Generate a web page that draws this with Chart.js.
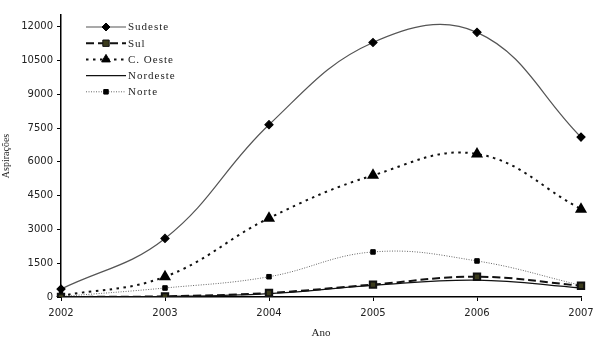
<!DOCTYPE html>
<html>
<head>
  <title>Aspirações por região</title>
  <script src="https://cdn.jsdelivr.net/npm/chart.js"></script>
  <style>
    body { margin: 0; background: #fff; }
  </style>
</head>
<body>
  <canvas id="chart" width="600" height="344"></canvas>
  <script>
    const anos = ['2002', '2003', '2004', '2005', '2006', '2007'];
    const sudeste = [350, 2600, 7650, 11300, 11750, 7100];
    const sul = [0, 30, 180, 550, 900, 500];
    const cOeste = [50, 900, 3500, 5400, 6350, 3900];
    const nordeste = [0, 20, 150, 520, 750, 400];
    const norte = [20, 400, 900, 2000, 1600, 520];
    const yTicks = [0, 1500, 3000, 4500, 6000, 7500, 9000, 10500, 12000];

    const serif = "'Liberation Serif', 'DejaVu Serif', serif";
    const sans = "'DejaVu Sans', sans-serif";

    // legend drawn by hand: line sample with its marker, then the label
    const legendPlugin = {
      id: 'legendaLinhas',
      afterDraw(chart) {
        const ctx = chart.ctx;
        const x0 = 86, x1 = 126, y0 = 27, step = 16.2;
        chart.data.datasets.forEach((ds, i) => {
          const y = y0 + i * step;
          ctx.save();
          ctx.strokeStyle = ds.borderColor;
          ctx.lineWidth = ds.borderWidth;
          ctx.setLineDash(ds.borderDash || []);
          ctx.beginPath();
          ctx.moveTo(x0, y);
          ctx.lineTo(x1, y);
          ctx.stroke();
          ctx.setLineDash([]);
          if (ds.pointRadius > 0) {
            ctx.fillStyle = ds.pointBackgroundColor;
            ctx.strokeStyle = ds.pointBorderColor;
            ctx.lineWidth = 1;
            Chart.helpers.drawPoint(ctx, {
              pointStyle: ds.pointStyle,
              radius: ds.pointRadius,
              rotation: 0,
              borderWidth: 1
            }, (x0 + x1) / 2, y);
          }
          ctx.restore();
          ctx.save();
          ctx.font = '11px ' + serif;
          ctx.letterSpacing = '1px';
          ctx.fillStyle = '#222';
          ctx.textBaseline = 'middle';
          ctx.fillText(ds.label, x1 + 2, y + 0.5);
          ctx.restore();
        });
      }
    };

    const ctx = document.getElementById('chart').getContext('2d');
    new Chart(ctx, {
      type: 'line',
      data: {
        labels: anos,
        datasets: [
          {
            label: 'Sudeste', data: sudeste,
            borderColor: '#555', borderWidth: 1.2,
            pointStyle: 'rectRot', pointRadius: 4,
            pointBackgroundColor: '#000', pointBorderColor: '#000'
          },
          {
            label: 'Sul', data: sul,
            borderColor: '#111', borderWidth: 2, borderDash: [8, 4],
            pointStyle: 'rect', pointRadius: 4.5,
            pointBackgroundColor: '#3b3b1c', pointBorderColor: '#111'
          },
          {
            label: 'C. Oeste', data: cOeste,
            borderColor: '#111', borderWidth: 2, borderDash: [2.5, 4.5],
            pointStyle: 'triangle', pointRadius: 5,
            pointBackgroundColor: '#000', pointBorderColor: '#000'
          },
          {
            label: 'Nordeste', data: nordeste,
            borderColor: '#111', borderWidth: 1.3,
            pointStyle: 'circle', pointRadius: 0
          },
          {
            label: 'Norte', data: norte,
            borderColor: '#666', borderWidth: 1, borderDash: [1, 1.5],
            pointStyle: 'rect', pointRadius: 3.2,
            pointBackgroundColor: '#000', pointBorderColor: '#000'
          }
        ]
      },
      options: {
        responsive: false,
        animation: false,
        layout: { padding: { top: 15, right: 19, left: 0, bottom: 0 } },
        elements: { line: { tension: 0.4, fill: false } },
        plugins: { legend: { display: false }, tooltip: { enabled: false } },
        scales: {
          x: {
            offset: false,
            grid: { drawOnChartArea: false, drawTicks: true, tickLength: 4, color: '#000' },
            border: { color: '#000', width: 1.5 },
            ticks: { color: '#222', font: { family: sans, size: 10 }, padding: 6, maxRotation: 0 },
            title: { display: true, text: 'Ano', color: '#222', font: { family: serif, size: 11 }, padding: { top: 2 } },
            afterFit(s) { s.height = 47; }
          },
          y: {
            min: 0, max: 12520,
            grid: { drawOnChartArea: false, drawTicks: true, tickLength: 4, color: '#000' },
            border: { color: '#000', width: 1.5 },
            ticks: {
              color: '#222', font: { family: sans, size: 10 }, padding: 4,
              callback: v => String(v)
            },
            afterBuildTicks(s) { s.ticks = yTicks.map(v => ({ value: v })); },
            title: { display: true, text: 'Aspirações', color: '#222', font: { family: serif, size: 10 }, padding: 0 },
            afterFit(s) { s.width = 61; }
          }
        }
      },
      plugins: [legendPlugin]
    });
  </script>
</body>
</html>
